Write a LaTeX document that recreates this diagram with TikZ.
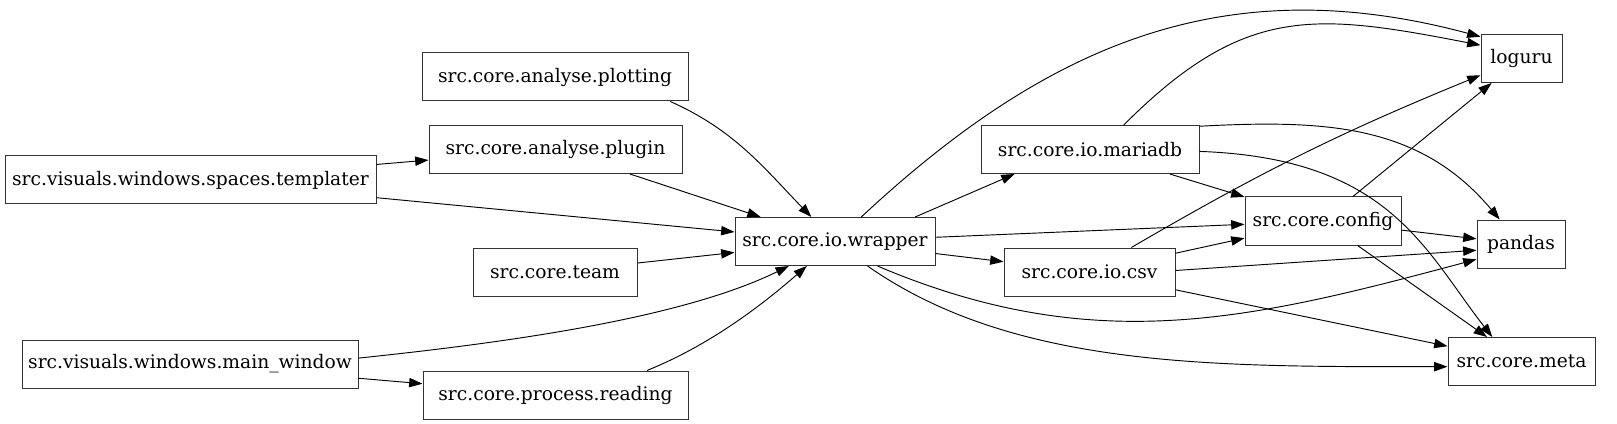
\documentclass[tikz,border=0pt]{standalone}
\usepackage{fontspec}
\setmainfont{DejaVu Serif}
\usetikzlibrary{arrows.meta}
\tikzset{
  mod/.style={draw=black!80, line width=0.75pt, minimum height=36pt, inner sep=2pt,
    font=\fontsize{14}{16}\selectfont},
  dep/.style={-{Triangle[length=10pt,width=7pt]}, line width=0.7pt},
}

\begin{document}
\begin{tikzpicture}[x=0.75pt,y=0.75pt]
  \useasboundingbox (0,0) rectangle (1617,-424);
  % importers
  \node[mod, minimum width=278.25pt] (templater) at (190.5,-180) {src.visuals.windows.spaces.templater};
  \node[mod, minimum width=252pt] (main) at (190,-364) {src.visuals.windows.main\_window};
  \node[mod, minimum width=199.5pt] (plotting) at (555,-77) {src.core.analyse.plotting};
  \node[mod, minimum width=189.75pt] (plugin) at (555.5,-149.5) {src.core.analyse.plugin};
  \node[mod, minimum width=123pt] (team) at (555,-272) {src.core.team};
  \node[mod, minimum width=198.75pt] (reading) at (555.5,-395) {src.core.process.reading};
  % io layer
  \node[mod, minimum width=150pt] (wrapper) at (835,-241.5) {src.core.io.wrapper};
  \node[mod, minimum width=163.5pt] (mariadb) at (1090,-149.5) {src.core.io.mariadb};
  \node[mod, minimum width=128.25pt] (csv) at (1089.5,-272) {src.core.io.csv};
  \node[mod, minimum width=117pt] (config) at (1323,-221) {src.core.config};
  % leaves
  \node[mod, minimum width=60.75pt] (loguru) at (1521.5,-58.5) {loguru};
  \node[mod, minimum width=66pt] (pandas) at (1521,-244) {pandas};
  \node[mod, minimum width=110.25pt] (meta) at (1521.5,-361.5) {src.core.meta};

  \draw[dep] (templater) -- (plugin);
  \draw[dep] (templater) -- (wrapper);
  \draw[dep] (plotting.-12) .. controls +(-24:70) and +(134:70) .. (wrapper.134);
  \draw[dep] (plugin) -- (wrapper);
  \draw[dep] (team) -- (wrapper);
  \draw[dep] (main.2) .. controls +(6:150) and +(206:120) .. (wrapper.-152);
  \draw[dep] (main) -- (reading);
  \draw[dep] (reading.15) .. controls +(22:65) and +(221:65) .. (wrapper.-139);
  \draw[dep] (wrapper.43) .. controls +(43:260) and +(165:260) .. (loguru.152);
  \draw[dep] (wrapper.17) -- (mariadb.198);
  \draw[dep] (wrapper) -- (config);
  \draw[dep] (wrapper) -- (csv);
  \draw[dep] (wrapper.-30) .. controls +(-23:235) and +(195:235) .. (pandas.199);
  \draw[dep] (wrapper.-37) .. controls +(-35:180) and +(180:230) .. (meta.184);
  \draw[dep] (mariadb.36) .. controls +(45:170) and +(169:170) .. (loguru.162);
  \draw[dep] (mariadb.12) .. controls +(3:125) and +(130:125) .. (pandas.131);
  \draw[dep] (mariadb.-1) .. controls +(-2:190) and +(128:110) .. (meta.140);
  \draw[dep] (mariadb) -- (config);
  \draw[dep] (csv) to[bend left=4] (loguru);
  \draw[dep] (csv) -- (config);
  \draw[dep] (csv.1) -- (pandas.188);
  \draw[dep] (csv) -- (meta);
  \draw[dep] (config) -- (loguru);
  \draw[dep] (config) -- (pandas);
  \draw[dep] (config) -- (meta);
\end{tikzpicture}
\end{document}
